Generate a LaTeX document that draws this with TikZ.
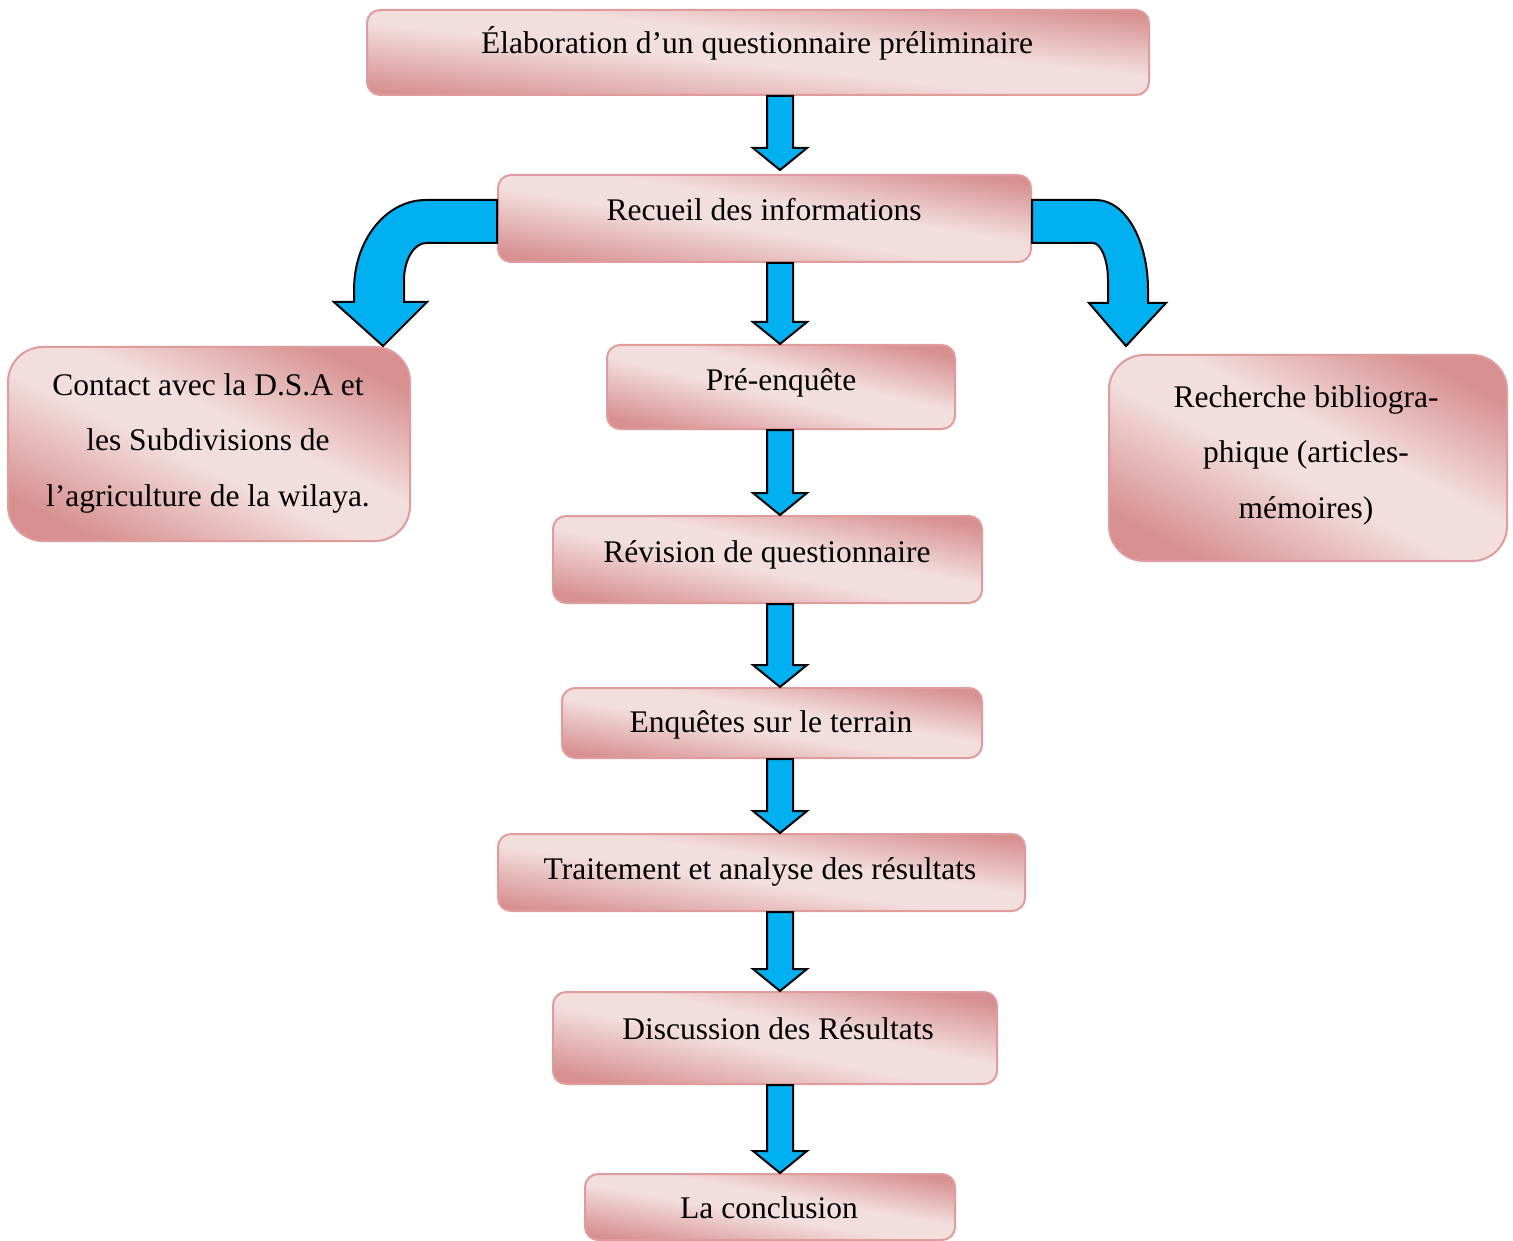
\documentclass[tikz,border=0pt]{standalone}
\usepackage{fontspec}
\setmainfont{Liberation Serif}
\usetikzlibrary{calc}
\definecolor{pkdark}{RGB}{215,143,143}
\definecolor{pklight}{RGB}{243,222,222}
\definecolor{pkborder}{RGB}{224,156,156}
\definecolor{arrowblue}{RGB}{0,176,240}
\pgfdeclarehorizontalshading{boxshade}{100bp}{color(0bp)=(pkdark); color(24bp)=(pkdark); color(46bp)=(pklight); color(56bp)=(pklight); color(76bp)=(pkdark); color(100bp)=(pkdark)}
\newcommand\blockarrow[2]{%
  \draw[barrow] let \p1=(#1), \p2=(#2) in
    (\x1-13pt,\y1) -- (\x1+13pt,\y1) -- (\x1+13pt,\y2+22pt) -- (\x1+27pt,\y2+22pt)
    -- (\x1,\y2) -- (\x1-27pt,\y2+22pt) -- (\x1-13pt,\y2+22pt) -- cycle;}
\begin{document}
\begin{tikzpicture}[x=1pt,y=-1pt,
  box/.style={draw=pkborder, line width=2pt, rounded corners=13pt, shading=boxshade, shading angle=#1, inner sep=0pt},
  bigbox/.style={box=#1, rounded corners=35pt},
  txt/.style={font=\fontsize{31.5}{55.5}\selectfont, inner sep=0pt, anchor=base, align=center},
  barrow/.style={draw=black, line width=2pt, fill=arrowblue, line join=miter}]
\useasboundingbox (0,0) rectangle (1513,1241);
\coordinate (ax) at (780,0);
% boxes
\node[box=83.8, minimum width=782pt, minimum height=85pt] (b1) at (758,52.5) {};
\node[box=80.7, minimum width=533pt, minimum height=87pt] (b2) at (764.5,218.5) {};
\node[bigbox=64.2, minimum width=402pt, minimum height=194pt] (b3) at (209,444) {};
\node[box=76.4, minimum width=348pt, minimum height=84pt] (b4) at (781,387) {};
\node[bigbox=62.6, minimum width=398pt, minimum height=206pt] (b5) at (1308,458) {};
\node[box=78.5, minimum width=429pt, minimum height=87pt] (b6) at (767.5,559.5) {};
\node[box=80.5, minimum width=420pt, minimum height=70pt] (b7) at (772,723) {};
\node[box=81.7, minimum width=527pt, minimum height=77pt] (b8) at (761.5,872.5) {};
\node[box=78.3, minimum width=444pt, minimum height=92pt] (b9) at (775,1038) {};
\node[box=79.9, minimum width=370pt, minimum height=66pt] (b10) at (770,1207) {};
% texts
\node[txt] (t1) at (757,54) {Élaboration d’un questionnaire préliminaire};
\node[txt] (t2) at (764,221) {Recueil des informations};
\node[txt] (t3) at (208,506) {Contact avec la D.S.A et\\les Subdivisions de\\l’agriculture de la wilaya.};
\node[txt] (t4) at (781,390) {Pré-enquête};
\node[txt] (t5) at (1306,518) {Recherche bibliogra-\\phique (articles-\\mémoires)};
\node[txt] (t6) at (767,562) {Révision de questionnaire};
\node[txt] (t7) at (771,732) {Enquêtes sur le terrain};
\node[txt] (t8) at (760,879) {Traitement et analyse des résultats};
\node[txt] (t9) at (778,1039) {Discussion des Résultats};
\node[txt] (t10) at (769,1218) {La conclusion};
% straight arrows
\blockarrow{ax |- b1.south}{$(ax |- b2.north)+(0,-4)$}
\blockarrow{ax |- b2.south}{ax |- b4.north}
\blockarrow{ax |- b4.south}{ax |- b6.north}
\blockarrow{ax |- b6.south}{ax |- b7.north}
\blockarrow{ax |- b7.south}{ax |- b8.north}
\blockarrow{ax |- b8.south}{ax |- b9.north}
\blockarrow{ax |- b9.south}{ax |- b10.north}
% curved arrow to the left
\begin{scope}[shift={(b2.west)}]
\draw[barrow] (0,-18.5) -- (-71,-18.5) .. controls (-111,-18.5) and (-143,21.5) .. (-143,71.5)
  -- (-143,83.5) -- (-163,83.5) -- ([xshift=-28pt]b3.north east) -- (-70,83.5) -- (-93,83.5)
  -- (-93,61.5) .. controls (-93,41.5) and (-83,24.5) .. (-71,24.5) -- (0,24.5) -- cycle;
\end{scope}
% curved arrow to the right
\begin{scope}[shift={(b2.east)}]
\draw[barrow] (0,-18.5) -- (64,-18.5) .. controls (93,-18.5) and (116,21.5) .. (116,71.5)
  -- (116,84.5) -- (134,84.5) -- ([shift={(18,-8)}]b5.north west) -- (57,84.5) -- (76,84.5)
  -- (76,61.5) .. controls (76,41.5) and (69,24.5) .. (61,24.5) -- (0,24.5) -- cycle;
\end{scope}
\end{tikzpicture}
\end{document}
